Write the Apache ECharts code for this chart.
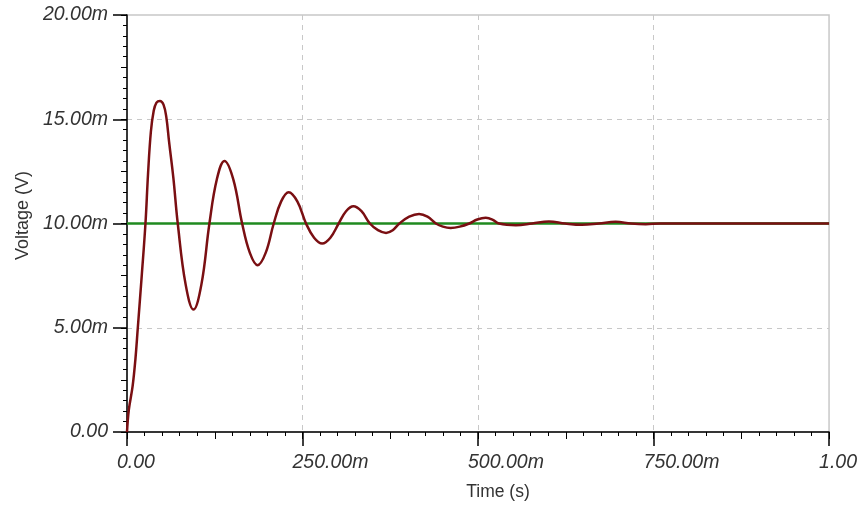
<!DOCTYPE html>
<html>
<head>
<meta charset="utf-8">
<script src="https://cdn.jsdelivr.net/npm/echarts@6/dist/echarts.min.js"></script>
<style>
html,body{margin:0;padding:0;background:#fff;}
#chart{width:860px;height:506px;}
</style>
</head>
<body>
<div id="chart"></div>
<script>
// Time in ms, voltage in mV
var timeMs = [0, 2.6, 8, 12, 15.4, 21, 26.3, 30, 34, 38, 42, 47, 52, 56, 60, 66, 72.3,
  83.5, 94.7, 106, 117.4, 128, 138.8, 151.4, 164, 175, 186, 197.5, 209,
  219.6, 230.3, 242.6, 255, 266.5, 278, 289.7, 301.5, 312, 322.5, 334, 346,
  357.5, 369, 378.5, 388, 402, 416, 428, 440, 450, 461, 474, 487.5, 499, 511, 520.5, 530,
  554, 577, 601, 624, 648, 672, 696, 718, 739, 760, 1000];
var voltageMv = [0, 1.06, 2.2, 3.5, 5.0, 7.5, 10.0, 12.4, 14.4, 15.4, 15.8, 15.88, 15.7, 15.1, 13.9, 12.2, 10.0,
  7.08, 5.87, 7.08, 10.0, 12.12, 13.0, 12.12, 10.0, 8.59, 8.0, 8.59, 10.0,
  11.06, 11.5, 11.06, 10.0, 9.32, 9.04, 9.32, 10.0, 10.59, 10.83, 10.59, 10.0,
  9.68, 9.55, 9.68, 10.0, 10.33, 10.46, 10.33, 10.0, 9.85, 9.79, 9.85, 10.0, 10.19, 10.27, 10.19, 10.0,
  9.92, 10.0, 10.1, 10.0, 9.94, 10.0, 10.08, 10.0, 9.97, 10.0, 10.0];
var refTimeMs = [0, 1000];
var refVoltageMv = [10, 10];
var xTickLabels = ['0.00', '250.00m', '500.00m', '750.00m', '1.00'];
var yTickLabels = ['0.00', '5.00m', '10.00m', '15.00m', '20.00m'];

var outData = timeMs.map(function (t, i) { return [t, voltageMv[i]]; });
var refData = refTimeMs.map(function (t, i) { return [t, refVoltageMv[i]]; });

var font = 'Liberation Sans, Arial, sans-serif';
var chart = echarts.init(document.getElementById('chart'), null, {renderer: 'canvas'});
chart.setOption({
  animation: false,
  backgroundColor: '#ffffff',
  grid: {left: 127, right: 30, top: 15, bottom: 74, show: true, borderColor: '#c8c8c8', borderWidth: 1.5, backgroundColor: 'transparent'},
  xAxis: [{
    type: 'value', min: 0, max: 1000, interval: 250,
    name: 'Time (s)', nameLocation: 'middle', nameGap: 51,
    nameTextStyle: {fontFamily: font, fontSize: 17.5, color: '#333', padding: [0, 0, 0, 40]},
    axisLine: {show: true, lineStyle: {color: '#000', width: 1.5}},
    axisTick: {show: true, length: 14, lineStyle: {color: '#000', width: 1.5}},
    minorTick: {show: true, splitNumber: 10, length: 4, lineStyle: {color: '#000', width: 1}},
    axisLabel: {
      margin: 21, fontFamily: font, fontSize: 19.5, fontStyle: 'italic', color: '#333',
      align: 'left', padding: [0, 0, 0, -10],
      formatter: function (v) { return xTickLabels[Math.round(v / 250)]; }
    },
    splitLine: {show: true, showMinLine: false, showMaxLine: false, lineStyle: {color: '#c8c8c8', type: [5, 5], width: 1}},
    minorSplitLine: {show: false}
  }, {
    type: 'value', min: 0, max: 1000, interval: 125, position: 'bottom',
    axisLine: {show: false},
    axisTick: {show: true, length: 7, lineStyle: {color: '#000', width: 1}},
    axisLabel: {show: false},
    splitLine: {show: false}
  }],
  yAxis: [{
    type: 'value', min: 0, max: 20, interval: 5,
    name: 'Voltage (V)', nameLocation: 'middle', nameGap: 94, nameRotate: 90,
    nameTextStyle: {fontFamily: font, fontSize: 18, color: '#333', padding: [0, 0, 0, 16]},
    axisLine: {show: true, lineStyle: {color: '#000', width: 1.5}},
    axisTick: {show: true, length: 14, lineStyle: {color: '#000', width: 1.5}},
    minorTick: {show: true, splitNumber: 10, length: 4, lineStyle: {color: '#000', width: 1}},
    axisLabel: {
      margin: 19, fontFamily: font, fontSize: 19.5, fontStyle: 'italic', color: '#333',
      formatter: function (v) { return yTickLabels[Math.round(v / 5)]; }
    },
    splitLine: {show: true, showMinLine: false, showMaxLine: false, lineStyle: {color: '#c8c8c8', type: [5, 5], width: 1}}
  }, {
    type: 'value', min: 0, max: 20, interval: 2.5, position: 'left',
    axisLine: {show: false},
    axisTick: {show: true, length: 6, lineStyle: {color: '#000', width: 1}},
    axisLabel: {show: false},
    splitLine: {show: false}
  }],
  series: [{
    name: 'Reference', type: 'line', data: refData, showSymbol: false, z: 2,
    lineStyle: {color: '#1f8a1f', width: 2.5}
  }, {
    name: 'Output', type: 'line', data: outData, showSymbol: false, smooth: 0.4, z: 3,
    lineStyle: {color: '#7a0f12', width: 2.5}
  }]
});
</script>
</body>
</html>
